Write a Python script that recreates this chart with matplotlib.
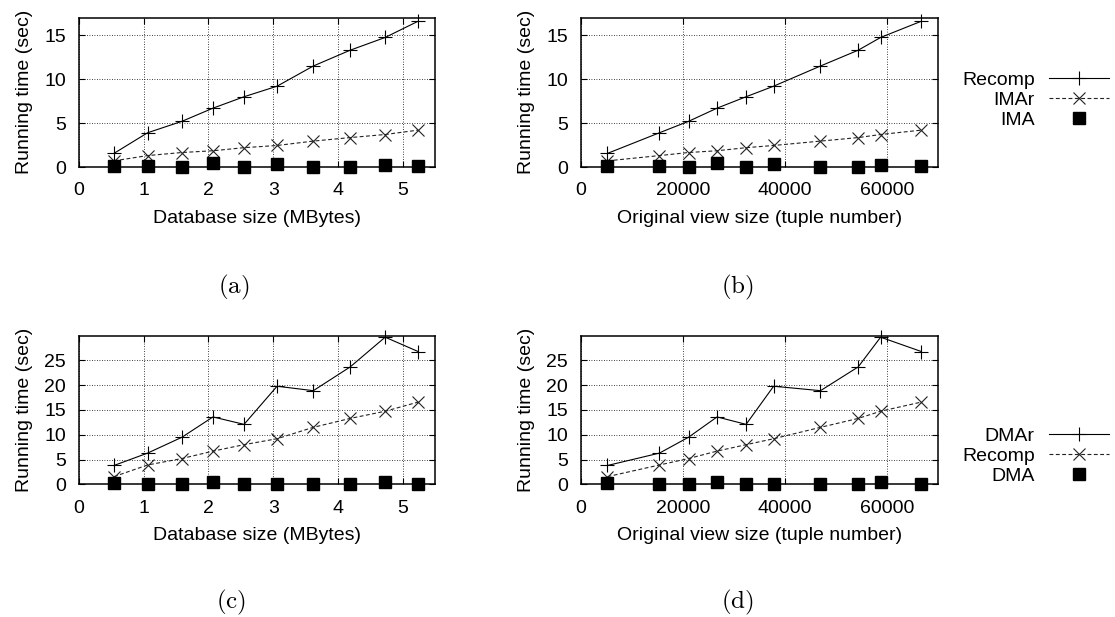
import matplotlib
matplotlib.use("Agg")
import matplotlib.pyplot as plt

plt.rcParams['font.family'] = ['Liberation Sans', 'DejaVu Sans']
plt.rcParams['mathtext.fontset'] = 'cm'

# ---- data ----
db_size = [0.54, 1.06, 1.59, 2.07, 2.55, 3.06, 3.62, 4.19, 4.73, 5.24]
view_size = [5200, 15400, 21100, 26700, 32400, 37800, 47000, 54400, 58800, 66800]

recomp = [1.55, 3.9, 5.2, 6.7, 8.0, 9.2, 11.5, 13.3, 14.75, 16.6]
imar = [0.7, 1.3, 1.65, 1.85, 2.2, 2.45, 2.95, 3.35, 3.7, 4.2]
ima = [0.15, 0.12, 0.02, 0.4, 0.02, 0.35, 0.03, 0.03, 0.25, 0.08]

dmar = [3.8, 6.3, 9.5, 13.6, 12.1, 19.8, 18.9, 23.7, 29.7, 26.8]
dma = [0.2, 0.05, 0.05, 0.55, 0.05, 0.05, 0.05, 0.05, 0.45, 0.12]

db_ticks = [0, 1, 2, 3, 4, 5]
view_ticks = [0, 20000, 40000, 60000]
top_yticks = [0, 5, 10, 15]
bot_yticks = [0, 5, 10, 15, 20, 25]

xlabel_db = "Database size (MBytes)"
xlabel_view = "Original view size (tuple number)"
ylabel = "Running time (sec)"
top_labels = ["Recomp", "IMAr", "IMA"]
bot_labels = ["DMAr", "Recomp", "DMA"]
panel_labels = ["(a)", "(b)", "(c)", "(d)"]

W, H = 1115, 617
fig = plt.figure(figsize=(W / 100, H / 100), dpi=100)

FS = 14

def ax_rect(l, t, r, b):
    return [l / W, 1 - b / H, (r - l) / W, (b - t) / H]

rects = [ax_rect(79, 17.7, 435, 167), ax_rect(581, 17.7, 937.7, 167),
         ax_rect(79, 335.7, 435, 484.3), ax_rect(581, 335.7, 937.7, 484.3)]

solid = dict(color='black', lw=0.8, marker='+', ms=10.5, mew=0.8, clip_on=False)
dashed = dict(color='#222222', lw=0.8, ls=(0, (3.5, 2.2)), marker='x', ms=8.5,
              mew=0.8, clip_on=False)
square = dict(color='black', ls='none', marker='s', ms=8, clip_on=False)

for i, rc in enumerate(rects):
    ax = fig.add_axes(rc)
    top = i < 2
    xs = db_size if i % 2 == 0 else view_size
    if top:
        s1, s2, s3 = recomp, imar, ima
    else:
        s1, s2, s3 = dmar, recomp, dma
    h1, = ax.plot(xs, s1, **solid)
    h2, = ax.plot(xs, s2, **dashed)
    h3, = ax.plot(xs, s3, **square)
    if i % 2 == 0:
        ax.set_xlim(0, 5.5)
        ax.set_xticks(db_ticks)
        ax.set_xlabel(xlabel_db, fontsize=FS)
    else:
        ax.set_xlim(0, 70000)
        ax.set_xticks(view_ticks)
        ax.set_xlabel(xlabel_view, fontsize=FS)
    if top:
        ax.set_ylim(0, 17)
        ax.set_yticks(top_yticks)
    else:
        ax.set_ylim(0, 30)
        ax.set_yticks(bot_yticks)
    ax.set_ylabel(ylabel, fontsize=FS)
    ax.xaxis.set_label_coords(0.5, -0.29)
    ax.yaxis.set_label_coords(-0.128, 0.5)
    ax.grid(True, color='black', lw=0.6, ls=(0, (1, 2)))
    ax.set_axisbelow(True)
    ax.tick_params(direction='in', length=4, width=0.8, top=True, right=True,
                   labelsize=FS)
    ax.tick_params(axis='x', pad=11)
    ax.tick_params(axis='y', pad=9.5)
    for sp in ax.spines.values():
        sp.set_linewidth(1.1)
    if i % 2 == 1:
        labels = top_labels if top else bot_labels
        cy = 100 if top else 456
        fig.legend([h1, h2, h3], labels, loc='center right',
                   bbox_to_anchor=(1109 / W, 1 - cy / H), markerfirst=False,
                   frameon=False, fontsize=FS, handlelength=3.1,
                   handletextpad=0.72, labelspacing=0.12, borderpad=0,
                   borderaxespad=0, numpoints=1)

label_pos = [(234, 287), (737, 287), (231, 602), (737, 602)]
for (x, y), lab in zip(label_pos, panel_labels):
    fig.text(x / W, 1 - y / H, r'$\mathrm{' + lab + '}$', fontsize=18,
             ha='center', va='center')

fig.savefig("out.png", dpi=100)
